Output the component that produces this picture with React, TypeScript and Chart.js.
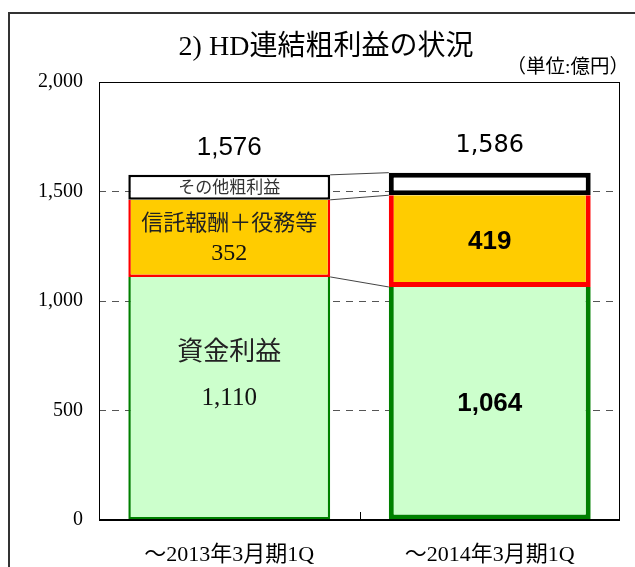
import React, { useEffect, useRef } from "react";
import { Chart, registerables } from "chart.js";

Chart.register(...registerables);

// ---- data ----
const categories = ["～2013年3月期1Q", "～2014年3月期1Q"];
const seriesNames = ["資金利益", "信託報酬＋役務等", "その他粗利益"];
const fundProfit = [1110, 1064];
const trustFees = [352, 419];
const otherProfit = [114, 103];
const yMin = 0;
const yMax = 2000;
const yStep = 500;
const titleText = "2) HD連結粗利益の状況";
const unitText = "（単位:億円）";

const SERIF = '"Liberation Serif", "Noto Sans CJK JP", serif';
const SANS = '"Liberation Sans", Arial, "Noto Sans CJK JP", sans-serif';
const CJK = '"Noto Sans CJK JP", sans-serif';

const fmt = (v: number) => v.toLocaleString("en-US");
const totals = categories.map((_, i) => fundProfit[i] + trustFees[i] + otherProfit[i]);

type LabelLine = { text: string; font: string; dy: number; color?: string };
// label lines per dataset per category
const segmentLabels: LabelLine[][][] = [
  [
    [
      { text: seriesNames[0], font: `26px ${CJK}`, dy: -48, color: "#222" },
      { text: fmt(fundProfit[0]), font: `25px ${SERIF}`, dy: 0, color: "#111" },
    ],
    [{ text: fmt(fundProfit[1]), font: `bold 26px ${SANS}`, dy: 1 }],
  ],
  [
    [
      { text: seriesNames[1], font: `22px ${CJK}`, dy: -17, color: "#222" },
      { text: fmt(trustFees[0]), font: `24px ${SERIF}`, dy: 15, color: "#111" },
    ],
    [{ text: fmt(trustFees[1]), font: `bold 26px ${SANS}`, dy: 1 }],
  ],
  [[{ text: seriesNames[2], font: `17px ${CJK}`, dy: -1, color: "#333" }], []],
];
const totalFonts = [`26px ${SANS}`, `24px "DejaVu Sans", sans-serif`];

const decoPlugin = {
  id: "deco",
  beforeDraw(chart: any) {
    const { ctx, width, height } = chart;
    ctx.save();
    ctx.fillStyle = "#fff";
    ctx.fillRect(0, 0, width, height);
    ctx.strokeStyle = "#333";
    ctx.lineWidth = 2;
    ctx.strokeRect(9, 13, width + 20, height + 20);
    ctx.fillStyle = "#000";
    ctx.textBaseline = "middle";
    ctx.textAlign = "center";
    ctx.font = `28px ${SERIF}`;
    ctx.fillText(titleText, 326, 48);
    ctx.textAlign = "right";
    ctx.font = `19.5px ${SERIF}`;
    ctx.fillText(unitText, 629, 68);
    ctx.restore();
  },
  afterDatasetsDraw(chart: any) {
    const { ctx, chartArea } = chart;
    const { left, right, top, bottom } = chartArea;
    ctx.save();
    // connector lines between bars
    ctx.strokeStyle = "#444";
    ctx.lineWidth = 1;
    for (let d = 0; d < chart.data.datasets.length; d++) {
      const meta = chart.getDatasetMeta(d);
      const a = meta.data[0].getProps(["x", "y", "width"], true);
      const b = meta.data[1].getProps(["x", "y", "width"], true);
      ctx.beginPath();
      ctx.moveTo(a.x + a.width / 2, a.y);
      ctx.lineTo(b.x - b.width / 2, b.y);
      ctx.stroke();
    }
    // plot box
    ctx.strokeStyle = "#000";
    ctx.lineWidth = 1;
    ctx.strokeRect(left + 0.5, top + 0.5, right - left - 1, bottom - top);
    ctx.lineWidth = 2;
    ctx.beginPath();
    ctx.moveTo(left, bottom);
    ctx.lineTo(right, bottom);
    ctx.stroke();
    // middle category tick
    const xs = chart.scales.x;
    const mid = Math.round((xs.getPixelForValue(0) + xs.getPixelForValue(1)) / 2) + 0.5;
    ctx.lineWidth = 1;
    ctx.beginPath();
    ctx.moveTo(mid, bottom);
    ctx.lineTo(mid, bottom - 8);
    ctx.stroke();

    // segment labels
    ctx.textAlign = "center";
    ctx.textBaseline = "middle";
    for (let d = 0; d < segmentLabels.length; d++) {
      const meta = chart.getDatasetMeta(d);
      segmentLabels[d].forEach((lines, i) => {
        const el = meta.data[i].getProps(["x", "y", "base"], true);
        const cy = (el.y + el.base) / 2;
        lines.forEach((ln) => {
          ctx.font = ln.font;
          ctx.fillStyle = ln.color || "#000";
          ctx.fillText(ln.text, el.x, cy + ln.dy);
        });
      });
    }
    // totals
    const topMeta = chart.getDatasetMeta(chart.data.datasets.length - 1);
    totals.forEach((t, i) => {
      const el = topMeta.data[i].getProps(["x", "y"], true);
      ctx.font = totalFonts[i];
      ctx.fillStyle = "#000";
      ctx.fillText(fmt(t), el.x, el.y - 27);
    });
    ctx.restore();
  },
};

export default function App() {
  const ref = useRef<HTMLCanvasElement | null>(null);
  useEffect(() => {
    if (!ref.current) return;
    const chart = new Chart(ref.current, {
      type: "bar",
      data: {
        labels: categories,
        datasets: [
          {
            label: seriesNames[0],
            data: fundProfit,
            backgroundColor: "#CCFFCC",
            borderColor: "#008000",
            borderWidth: [2.5, 5],
            borderSkipped: "top",
          },
          {
            label: seriesNames[1],
            data: trustFees,
            backgroundColor: "#FFCC00",
            borderColor: "#FF0000",
            borderWidth: [2.5, 5],
            borderSkipped: "top",
          },
          {
            label: seriesNames[2],
            data: otherProfit,
            backgroundColor: "#FFFFFF",
            borderColor: "#000000",
            borderWidth: [2.5, 5],
            borderSkipped: false,
          },
        ],
      } as any,
      options: {
        animation: false,
        responsive: false,
        devicePixelRatio: 1,
        events: [],
        layout: { padding: { top: 82, right: 15, left: 0, bottom: 0 } },
        datasets: { bar: { categoryPercentage: 1, barPercentage: 0.775 } },
        plugins: { legend: { display: false }, tooltip: { enabled: false }, title: { display: false } },
        scales: {
          x: {
            stacked: true,
            grid: { display: false },
            border: { display: false },
            ticks: {
              color: "#000",
              padding: 14,
              font: { family: SERIF, size: 22 },
              maxRotation: 0,
            },
            afterFit: (s: any) => {
              s.height = 47;
            },
          },
          y: {
            stacked: true,
            min: yMin,
            max: yMax,
            ticks: {
              stepSize: yStep,
              color: "#000",
              padding: 16,
              font: { family: SERIF, size: 20 },
            },
            grid: {
              drawTicks: false,
              color: (c: any) =>
                c.tick && (c.tick.value === yMin || c.tick.value === yMax) ? "rgba(0,0,0,0)" : "#555",
              lineWidth: 1,
            },
            border: { display: false, dash: [7, 6] },
            afterFit: (s: any) => {
              s.width = 99;
            },
          },
        },
      } as any,
      plugins: [decoPlugin],
    });
    return () => chart.destroy();
  }, []);
  return (
    <div style={{ position: "fixed", left: 0, top: 0, width: 635, height: 567 }}>
      <canvas ref={ref} width={635} height={567} />
    </div>
  );
}
